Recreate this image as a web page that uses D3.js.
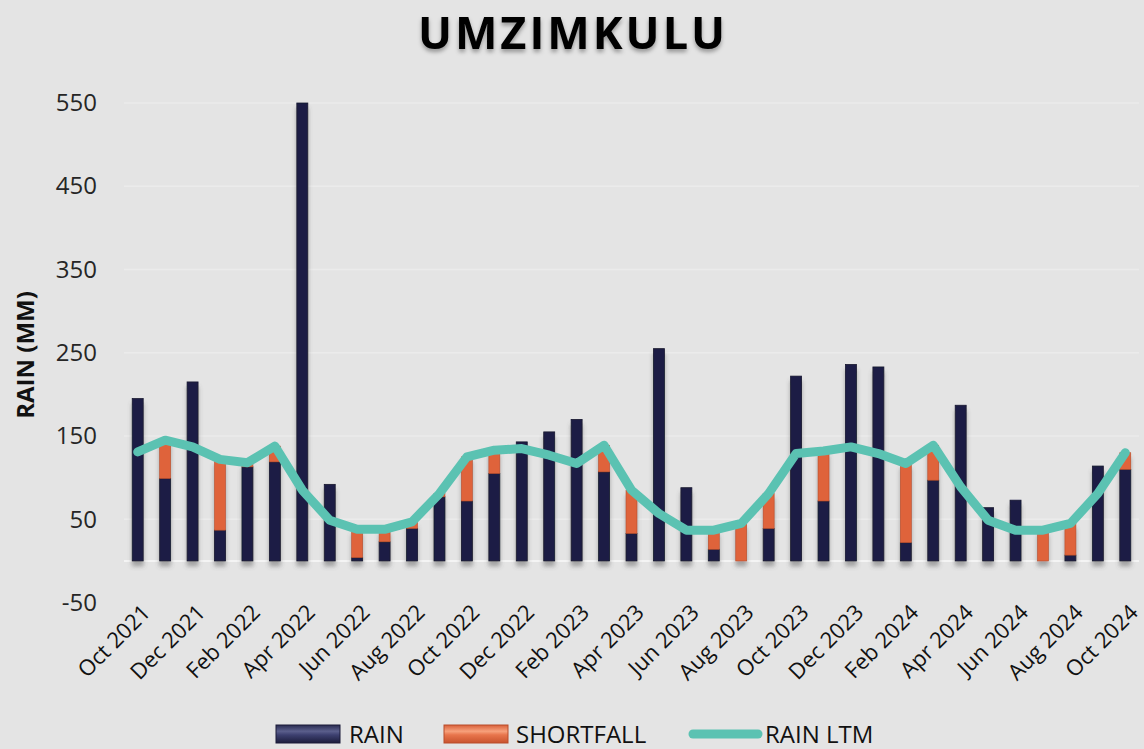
<!DOCTYPE html>
<html>
<head>
<meta charset="utf-8">
<script src="https://cdn.jsdelivr.net/npm/d3@7"></script>
<style>
  html, body { margin: 0; padding: 0; background: #e4e4e4; }
  svg { display: block; font-family: "Open Sans", sans-serif; }
</style>
</head>
<body>
<svg id="chart" width="1144" height="749"></svg>
<script>
// months along the x axis
const months = [
  "Oct 2021", "Nov 2021", "Dec 2021", "Jan 2022", "Feb 2022", "Mar 2022", "Apr 2022",
  "May 2022", "Jun 2022", "Jul 2022", "Aug 2022", "Sep 2022", "Oct 2022", "Nov 2022",
  "Dec 2022", "Jan 2023", "Feb 2023", "Mar 2023", "Apr 2023", "May 2023", "Jun 2023",
  "Jul 2023", "Aug 2023", "Sep 2023", "Oct 2023", "Nov 2023", "Dec 2023", "Jan 2024",
  "Feb 2024", "Mar 2024", "Apr 2024", "May 2024", "Jun 2024", "Jul 2024", "Aug 2024",
  "Sep 2024", "Oct 2024"
];
// monthly rain (mm)
const rain = [195, 99, 215, 37, 113, 119, 550, 92, 4, 23, 39, 77, 72, 105, 143, 155, 170, 107, 33,
  255, 88, 14, 0, 39, 222, 72, 236, 233, 22, 97, 187, 64, 73, 0, 7, 114, 110];
// shortfall against the long term mean
const shortfall = [0, 46, 0, 85, 5, 19, 0, 0, 34, 15, 8, 4, 53, 28, 0, 0, 0, 32, 52,
  0, 0, 23, 45, 42, 0, 60, 0, 0, 95, 42, 0, 0, 0, 37, 38, 0, 20];
// long term mean
const ltm = [131, 145, 137, 122, 118, 138, 85, 49, 38, 38, 47, 81, 125, 133, 135, 127, 117, 139, 85,
  57, 37, 37, 45, 81, 129, 132, 137, 129, 117, 139, 89, 49, 37, 37, 45, 81, 130];
const yTicks = [-50, 50, 150, 250, 350, 450, 550];

const svg = d3.select("#chart");
const W = 1144;
const plot = { left: 124, right: 1139, top: 103, bottom: 602.6 };

const defs = svg.append("defs");
const shadow = defs.append("filter").attr("id", "barShadow")
  .attr("x", "-60%").attr("y", "-10%").attr("width", "220%").attr("height", "130%");
shadow.append("feDropShadow").attr("dx", 0).attr("dy", 5).attr("stdDeviation", 2.2)
  .attr("flood-color", "#555").attr("flood-opacity", 0.45);
const tshadow = defs.append("filter").attr("id", "titleShadow")
  .attr("x", "-10%").attr("y", "-30%").attr("width", "120%").attr("height", "160%");
tshadow.append("feDropShadow").attr("dx", 0).attr("dy", 3).attr("stdDeviation", 2)
  .attr("flood-color", "#000").attr("flood-opacity", 0.35);

function grad(id, stops) {
  const g = defs.append("linearGradient").attr("id", id)
    .attr("x1", 0).attr("y1", 0).attr("x2", 0).attr("y2", 1);
  stops.forEach(s => g.append("stop").attr("offset", s[0]).attr("stop-color", s[1]));
}
grad("rainGrad", [[0, "#2a2c52"], [0.35, "#5b5f8c"], [0.55, "#3d4070"], [1, "#1c1d3c"]]);
grad("shortGrad", [[0, "#d9603a"], [0.35, "#f7a17c"], [0.55, "#e8754c"], [1, "#c9532e"]]);

// scales
const x = d3.scaleBand()
  .domain(d3.range(months.length))
  .range([plot.left, plot.right])
  .paddingInner(0.6)
  .paddingOuter(0.3);

const y = d3.scaleLinear()
  .domain([-50, 550])
  .range([plot.bottom, plot.top]);

// gridlines
svg.append("g")
  .selectAll("line")
  .data(yTicks.filter(d => d > -50))
  .join("line")
  .attr("x1", plot.left).attr("x2", plot.right)
  .attr("y1", d => y(d)).attr("y2", d => y(d))
  .attr("stroke", "#ebebeb").attr("stroke-width", 1.5);

// zero line
svg.append("line")
  .attr("x1", plot.left).attr("x2", plot.right)
  .attr("y1", y(0)).attr("y2", y(0))
  .attr("stroke", "#f4f4f4").attr("stroke-width", 2);

// y axis
const yAxis = svg.append("g")
  .attr("transform", "translate(" + plot.left + ",0)")
  .call(d3.axisLeft(y).tickValues(yTicks).tickFormat(d => String(d)).tickSize(0).tickPadding(27));
yAxis.select(".domain").remove();
yAxis.selectAll("text")
  .attr("font-family", "Open Sans, sans-serif")
  .attr("font-size", 24)
  .attr("fill", "#262626");

// x axis
const xAxis = svg.append("g")
  .attr("transform", "translate(0," + y(0) + ")")
  .call(d3.axisBottom(x)
    .tickValues(d3.range(0, months.length, 2))
    .tickFormat(i => months[i])
    .tickSize(0));
xAxis.select(".domain").remove();
xAxis.selectAll("text")
  .attr("font-family", "Open Sans, sans-serif")
  .attr("font-size", 22)
  .attr("fill", "#111")
  .attr("x", 0).attr("y", 0).attr("dy", 0)
  .attr("text-anchor", "end")
  .attr("transform", "translate(14,53) rotate(-45)");

// bars: rain, then shortfall stacked on top
const bars = svg.append("g").attr("filter", "url(#barShadow)");
bars.selectAll("rect.rain")
  .data(rain)
  .join("rect")
  .attr("class", "rain")
  .attr("x", (d, i) => x(i))
  .attr("width", x.bandwidth())
  .attr("y", d => y(d))
  .attr("height", d => y(0) - y(d))
  .attr("fill", "#1d1e44")
  .attr("stroke", "#16172f").attr("stroke-width", 0.8);

bars.selectAll("rect.short")
  .data(shortfall)
  .join("rect")
  .attr("class", "short")
  .attr("x", (d, i) => x(i))
  .attr("width", x.bandwidth())
  .attr("y", (d, i) => y(rain[i] + d))
  .attr("height", d => y(0) - y(d))
  .attr("fill", "#df633a")
  .attr("stroke", "#b84d2a").attr("stroke-width", 0.6);

// LTM line
const line = d3.line()
  .x((d, i) => x(i) + x.bandwidth() / 2)
  .y(d => y(d));

svg.append("path")
  .datum(ltm)
  .attr("d", line)
  .attr("fill", "none")
  .attr("stroke", "#5bc2b2")
  .attr("stroke-width", 9)
  .attr("stroke-linejoin", "round")
  .attr("stroke-linecap", "round");

// title
svg.append("text")
  .attr("x", W / 2 + 1)
  .attr("y", 49)
  .attr("text-anchor", "middle")
  .attr("font-family", "Open Sans, sans-serif")
  .attr("font-weight", "bold")
  .attr("font-size", 45)
  .attr("letter-spacing", 3)
  .attr("fill", "#000")
  .attr("filter", "url(#titleShadow)")
  .text("UMZIMKULU");

// y axis title
svg.append("text")
  .attr("transform", "translate(34,355) rotate(-90)")
  .attr("text-anchor", "middle")
  .attr("font-family", "Open Sans, sans-serif")
  .attr("font-weight", "bold")
  .attr("font-size", 24)
  .attr("fill", "#111")
  .text("RAIN (MM)");

// legend
const legend = svg.append("g").attr("font-family", "Open Sans, sans-serif").attr("font-size", 24);
legend.append("rect").attr("x", 276).attr("y", 725).attr("width", 64).attr("height", 18)
  .attr("fill", "url(#rainGrad)").attr("stroke", "#1a1b38");
legend.append("text").attr("x", 349).attr("y", 743).attr("fill", "#111").text("RAIN");
legend.append("rect").attr("x", 444).attr("y", 725).attr("width", 64).attr("height", 18)
  .attr("fill", "url(#shortGrad)").attr("stroke", "#b84d2a");
legend.append("text").attr("x", 516).attr("y", 743).attr("fill", "#111").text("SHORTFALL");
legend.append("line").attr("x1", 693).attr("x2", 758).attr("y1", 734).attr("y2", 734)
  .attr("stroke", "#5bc2b2").attr("stroke-width", 9).attr("stroke-linecap", "round");
legend.append("text").attr("x", 765).attr("y", 743).attr("fill", "#111").text("RAIN LTM");
</script>
</body>
</html>
